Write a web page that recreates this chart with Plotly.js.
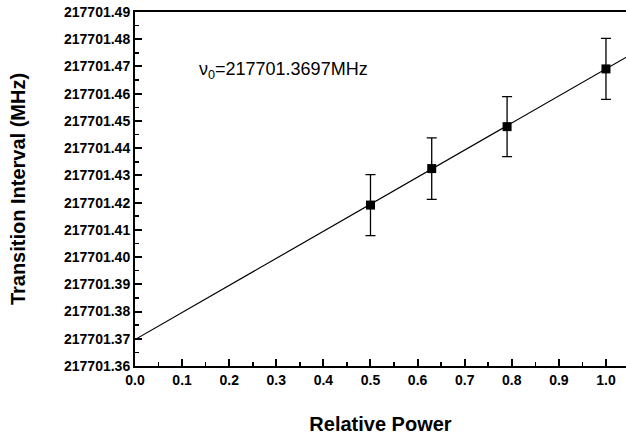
<!DOCTYPE html>
<html>
<head>
<meta charset="utf-8">
<script src="https://cdn.plot.ly/plotly-3.0.1.min.js"></script>
<style>html,body{margin:0;padding:0;background:#fff}#chart{width:626px;height:443px}</style>
</head>
<body>
<div id="chart"></div>
<script>
// Data
const relPower = [0.5, 0.63, 0.79, 1.0];
const transition = [217701.4191, 217701.4325, 217701.4479, 217701.4691];
const errors = [0.0112, 0.0113, 0.0110, 0.0112];
const fitX = [0.0, 1.05];
const fitY = [217701.3697, 217701.4741];
const nu0Label = 'ν<sub>0</sub>=217701.3697MHz';

const font = 'Arial, "Liberation Sans", sans-serif';

const traces = [
  {x: fitX, y: fitY, mode: 'lines', line: {color: '#000', width: 1.2}, hoverinfo: 'skip', showlegend: false},
  {x: relPower, y: transition, mode: 'markers',
   marker: {symbol: 'square', size: 9, color: '#000'},
   error_y: {type: 'data', array: errors, visible: true, color: '#000', thickness: 1.3, width: 5},
   showlegend: false}
];

const layout = {
  width: 626, height: 443,
  margin: {l: 135, r: 0, t: 12, b: 77},
  paper_bgcolor: '#fff', plot_bgcolor: '#fff',
  font: {family: font, color: '#000'},
  xaxis: {
    range: [0, 1.0425], tick0: 0, dtick: 0.1, tickformat: '.1f',
    showgrid: false, zeroline: false,
    showline: true, linewidth: 2, linecolor: '#000', mirror: true,
    ticks: 'inside', ticklen: 7, tickwidth: 2, tickcolor: '#000',
    minor: {ticks: 'inside', dtick: 0.05, ticklen: 4, tickwidth: 1.5, tickcolor: '#000'},
    tickfont: {size: 14, family: font, weight: 'bold'},
    title: {text: '<b>Relative Power</b>', font: {size: 20, family: font}, standoff: 30}
  },
  yaxis: {
    range: [217701.36, 217701.49], tick0: 217701.36, dtick: 0.01, tickformat: '.2f',
    showgrid: false, zeroline: false,
    showline: true, linewidth: 2, linecolor: '#000',
    ticks: 'inside', ticklen: 7, tickwidth: 2, tickcolor: '#000',
    minor: {ticks: 'inside', dtick: 0.005, ticklen: 4, tickwidth: 1.5, tickcolor: '#000'},
    tickfont: {size: 14, family: font, weight: 'bold'},
    title: {text: '<b>Transition Interval (MHz)</b>', font: {size: 20, family: font}, standoff: 33}
  },
  annotations: [{
    xref: 'paper', yref: 'paper', x: 0.127, y: 0.836, xanchor: 'left', yanchor: 'middle',
    text: nu0Label, showarrow: false, font: {size: 18, family: font, color: '#000'}
  }]
};

Plotly.newPlot('chart', traces, layout, {displayModeBar: false, staticPlot: true});
</script>
</body>
</html>
